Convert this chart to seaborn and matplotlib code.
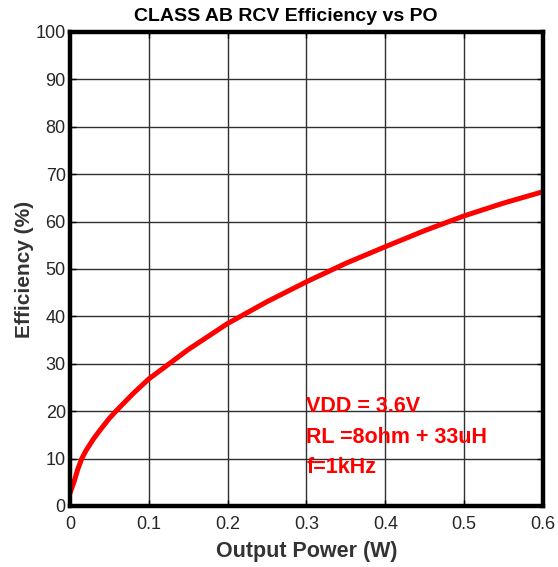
import matplotlib
matplotlib.use("Agg")
import matplotlib.pyplot as plt
import seaborn as sns
import pandas as pd

# values
power_w = [0.0, 0.005, 0.01, 0.015, 0.02, 0.03, 0.04, 0.05, 0.06, 0.08,
           0.1, 0.15, 0.2, 0.25, 0.3, 0.35, 0.4, 0.45, 0.5, 0.55, 0.6]
efficiency = [2.7, 5.0, 7.8, 10.0, 11.6, 14.2, 16.4, 18.5, 20.3, 23.7,
              26.8, 33.0, 38.5, 43.1, 47.3, 51.2, 54.7, 58.1, 61.2, 63.9, 66.3]
x_ticks = [0, 0.1, 0.2, 0.3, 0.4, 0.5, 0.6]
x_tick_labels = ["0", "0.1", "0.2", "0.3", "0.4", "0.5", "0.6"]
y_ticks = list(range(0, 101, 10))
notes = ["VDD = 3.6V", "RL =8ohm + 33uH", "f=1kHz"]
note_y = [19.8, 13.3, 7.0]

df = pd.DataFrame({"power": power_w, "eff": efficiency})

sns.set_style("white")
plt.rcParams["font.family"] = ["Liberation Sans", "DejaVu Sans"]

fig = plt.figure(figsize=(5.58, 5.67), dpi=100)
ax = fig.add_axes([0.1254, 0.1076, 0.8476, 0.836])

sns.lineplot(data=df, x="power", y="eff", color="#ff0000", linewidth=3.6, ax=ax)

ax.set_xlim(0, 0.6)
ax.set_ylim(0, 100)
ax.set_xticks(x_ticks)
ax.set_xticklabels(x_tick_labels)
ax.set_yticks(y_ticks)
ax.grid(True, color="#303030", linewidth=1.0)
ax.tick_params(direction="in", length=4, width=1, labelsize=13, colors="black",
               labelcolor="#262626", right=True, top=True, bottom=True, left=True)
ax.tick_params(axis="x", pad=7)
ax.tick_params(axis="y", pad=3)
for s in ax.spines.values():
    s.set_color("black")
    s.set_linewidth(3.2)

ax.set_title("CLASS AB RCV Efficiency vs PO", fontsize=14, fontweight="bold",
             color="black", pad=8, x=0.457)
ax.set_xlabel("Output Power (W)", fontsize=15.5, fontweight="bold", color="#333333",
              labelpad=6)
ax.set_ylabel("Efficiency (%)", fontsize=15, fontweight="bold", color="#333333",
              labelpad=1)

for txt, yv in zip(notes, note_y):
    ax.text(0.3, yv, txt, color="#ff0000", fontsize=15.5, fontweight="bold",
            ha="left", va="baseline")

fig.savefig("out.png", dpi=100)
